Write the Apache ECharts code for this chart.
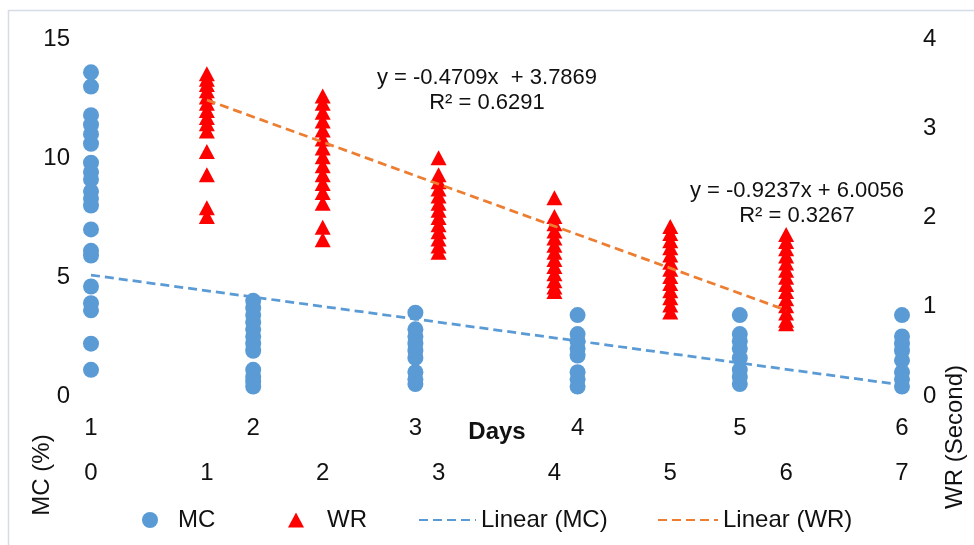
<!DOCTYPE html>
<html>
<head>
<meta charset="utf-8">
<script src="https://cdn.jsdelivr.net/npm/echarts@6/dist/echarts.min.js"></script>
<style>
  html, body { margin: 0; padding: 0; background: #fff; }
  #chart { width: 974px; height: 545px; }
</style>
</head>
<body>
<div id="chart"></div>
<script>
// MC (%) per day, plotted on the 1..6 axis
const mcDays = [1, 2, 3, 4, 5, 6];
const mcValues = [
  [13.6, 13.0, 11.8, 11.4, 11.0, 10.6, 9.8, 9.4, 9.1, 8.6, 8.3, 8.0, 7.0, 6.1, 5.9, 4.6, 3.9, 3.6, 2.2, 1.1],
  [4.0, 3.7, 3.4, 3.1, 2.8, 2.5, 2.2, 1.9, 1.1, 0.8, 0.6, 0.4],
  [3.5, 2.8, 2.5, 2.2, 1.9, 1.6, 1.0, 0.7, 0.5],
  [3.4, 2.6, 2.3, 2.0, 1.7, 1.0, 0.7, 0.4],
  [3.4, 2.6, 2.3, 2.0, 1.6, 1.1, 0.8, 0.5],
  [3.4, 2.5, 2.2, 1.9, 1.5, 1.0, 0.7, 0.4]
];
// WR (Second) per day, plotted on the 0..7 axis
const wrDays = [1, 2, 3, 4, 5, 6];
const wrValues = [
  [3.61, 3.55, 3.49, 3.42, 3.35, 3.28, 3.2, 3.12, 3.05, 2.97, 2.74, 2.48, 2.11, 2.01],
  [3.36, 3.28, 3.18, 3.08, 2.98, 2.88, 2.78, 2.68, 2.58, 2.48, 2.38, 2.28, 2.16, 1.89, 1.75],
  [2.67, 2.48, 2.4, 2.32, 2.24, 2.16, 2.08, 2.0, 1.92, 1.84, 1.76, 1.68, 1.61],
  [2.22, 2.01, 1.93, 1.85, 1.77, 1.69, 1.61, 1.53, 1.45, 1.37, 1.29, 1.22, 1.17],
  [1.9, 1.82, 1.74, 1.66, 1.58, 1.5, 1.42, 1.34, 1.26, 1.18, 1.1, 1.02, 0.94],
  [1.81, 1.73, 1.65, 1.57, 1.49, 1.41, 1.33, 1.25, 1.17, 1.09, 1.01, 0.93, 0.85, 0.81]
];
// trend lines (Excel linear fits)
const mcFit = { slope: -0.9237, intercept: 6.0056, r2: 0.3267 };
const wrFit = { slope: -0.4709, intercept: 3.7869, r2: 0.6291 };

const FONT = "'Liberation Sans', Arial, sans-serif";
const TXT = '#111';

const mcPoints = [];
mcDays.forEach((d, i) => mcValues[i].forEach(v => mcPoints.push([d, v])));
const wrPoints = [];
wrDays.forEach((d, i) => wrValues[i].forEach(v => wrPoints.push([d, v])));

const fitLine = (fit, days) => {
  const a = days[0], b = days[days.length - 1];
  return [[a, fit.slope * a + fit.intercept], [b, fit.slope * b + fit.intercept]];
};

const legendBase = {
  top: 503,
  orient: 'horizontal',
  selectedMode: false,
  textStyle: { fontFamily: FONT, fontSize: 24, color: TXT }
};

let myChart = echarts.init(document.getElementById('chart'));
myChart.setOption({
  animation: false,
  backgroundColor: '#fff',
  grid: { left: 91, right: 72, top: 39, bottom: 149 },
  xAxis: [
    {
      type: 'value', min: 0, max: 7, interval: 1, position: 'bottom', offset: 57,
      axisLine: { show: false }, axisTick: { show: false }, splitLine: { show: false },
      axisLabel: { fontFamily: FONT, fontSize: 24, color: TXT, margin: 8 }
    },
    {
      type: 'value', min: 1, max: 6, interval: 1, position: 'bottom', offset: 12,
      axisLine: { show: false }, axisTick: { show: false }, splitLine: { show: false },
      axisLabel: { fontFamily: FONT, fontSize: 24, color: TXT, margin: 8 }
    }
  ],
  yAxis: [
    {
      type: 'value', min: 0, max: 15, interval: 5, position: 'left',
      axisLine: { show: false }, axisTick: { show: false }, splitLine: { show: false },
      axisLabel: { fontFamily: FONT, fontSize: 24, color: TXT, margin: 21 }
    },
    {
      type: 'value', min: 0, max: 4, interval: 1, position: 'right',
      axisLine: { show: false }, axisTick: { show: false }, splitLine: { show: false },
      axisLabel: { fontFamily: FONT, fontSize: 24, color: TXT, margin: 21 }
    }
  ],
  legend: [
    Object.assign({}, legendBase, { left: 137, itemWidth: 16, itemHeight: 16, data: [{ name: 'MC', icon: 'circle' }],
      textStyle: Object.assign({}, legendBase.textStyle, { padding: [0, 0, 0, 15] }) }),
    Object.assign({}, legendBase, { left: 283, itemWidth: 16, itemHeight: 15, data: [{ name: 'WR', icon: 'triangle' }],
      textStyle: Object.assign({}, legendBase.textStyle, { padding: [0, 0, 0, 18] }) }),
    Object.assign({}, legendBase, { left: 413, itemWidth: 57, itemHeight: 14, itemStyle: { opacity: 0 }, data: ['Linear (MC)'] }),
    Object.assign({}, legendBase, { left: 652, itemWidth: 60, itemHeight: 14, itemStyle: { opacity: 0 }, data: ['Linear (WR)'] })
  ],
  series: [
    {
      name: 'MC', type: 'scatter', xAxisIndex: 1, yAxisIndex: 0,
      symbol: 'circle', symbolSize: 16,
      itemStyle: { color: '#5b9bd5', opacity: 1 },
      data: mcPoints
    },
    {
      name: 'WR', type: 'scatter', xAxisIndex: 0, yAxisIndex: 1,
      symbol: 'triangle', symbolSize: [16, 15],
      itemStyle: { color: '#ff0000', opacity: 1 },
      data: wrPoints
    },
    {
      name: 'Linear (MC)', type: 'line', xAxisIndex: 1, yAxisIndex: 0,
      symbol: 'none', silent: true,
      lineStyle: { color: '#5b9bd5', width: 2.75, type: [9, 5] },
      itemStyle: { color: '#5b9bd5' },
      data: fitLine(mcFit, mcDays)
    },
    {
      name: 'Linear (WR)', type: 'line', xAxisIndex: 0, yAxisIndex: 1,
      symbol: 'none', silent: true,
      lineStyle: { color: '#ed7d31', width: 2.75, type: [9, 5] },
      itemStyle: { color: '#ed7d31' },
      data: fitLine(wrFit, wrDays)
    }
  ],
  graphic: [
    {
      type: 'rect', silent: true, z: -1,
      shape: { x: 8.5, y: 10.5, width: 1000, height: 600 },
      style: { fill: 'none', stroke: '#d6dce5', lineWidth: 1.5 }
    },
    {
      type: 'text', x: 487, y: 90,
      style: {
        text: 'y = -0.4709x  + 3.7869\nR\u00b2 = 0.6291',
        font: '22px ' + FONT, fill: TXT, align: 'center', verticalAlign: 'middle', lineHeight: 25
      }
    },
    {
      type: 'text', x: 797, y: 203,
      style: {
        text: 'y = -0.9237x + 6.0056\nR\u00b2 = 0.3267',
        font: '22px ' + FONT, fill: TXT, align: 'center', verticalAlign: 'middle', lineHeight: 25
      }
    },
    {
      type: 'text', x: 497, y: 432,
      style: { text: 'Days', font: 'bold 24px ' + FONT, fill: TXT, align: 'center', verticalAlign: 'middle' }
    },
    {
      type: 'text', x: 42, y: 475, rotation: Math.PI / 2,
      style: { text: 'MC (%)', font: '24px ' + FONT, fill: TXT, align: 'center', verticalAlign: 'middle' }
    },
    {
      type: 'text', x: 955, y: 437, rotation: Math.PI / 2,
      style: { text: 'WR (Second)', font: '24px ' + FONT, fill: TXT, align: 'center', verticalAlign: 'middle' }
    }
  ]
});
</script>
</body>
</html>
